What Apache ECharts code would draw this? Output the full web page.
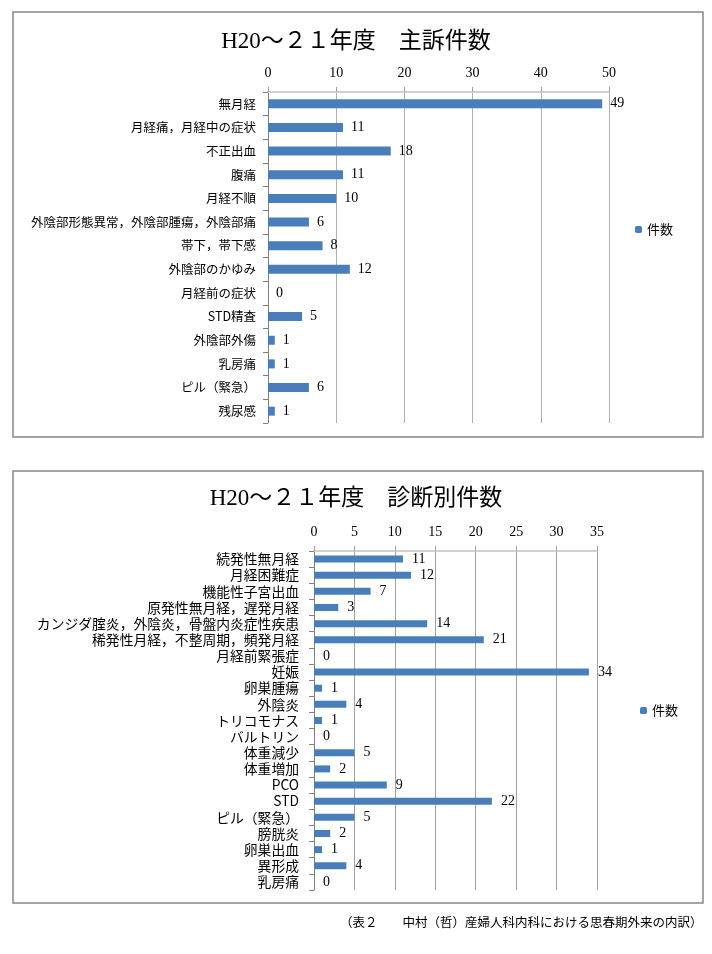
<!DOCTYPE html>
<html><head><meta charset="utf-8">
<script src="https://cdn.jsdelivr.net/npm/echarts@6/dist/echarts.min.js"></script>
<style>html,body{margin:0;padding:0;background:#fff;}#c{width:712px;height:954px;}</style>
</head><body><div id="c"></div>
<script>
var title1 = 'H20～２１年度　主訴件数';
var title2 = 'H20～２１年度　診断別件数';
var seriesName = '件数';
var caption = '（表２　　中村（哲）産婦人科内科における思春期外来の内訳）';

var cats1 = ['無月経','月経痛，月経中の症状','不正出血','腹痛','月経不順','外陰部形態異常，外陰部腫瘍，外陰部痛','帯下，帯下感','外陰部のかゆみ','月経前の症状','STD精査','外陰部外傷','乳房痛','ピル（緊急）','残尿感'];
var vals1 = [49,11,18,11,10,6,8,12,0,5,1,1,6,1];
var ticks1 = {min:0, max:50, interval:10};

var cats2 = ['続発性無月経','月経困難症','機能性子宮出血','原発性無月経，遅発月経','カンジダ腟炎，外陰炎，骨盤内炎症性疾患','稀発性月経，不整周期，頻発月経','月経前緊張症','妊娠','卵巣腫瘍','外陰炎','トリコモナス','バルトリン','体重減少','体重増加','PCO','STD','ピル（緊急）','膀胱炎','卵巣出血','異形成','乳房痛'];
var vals2 = [11,12,7,3,14,21,0,34,1,4,1,0,5,2,9,22,5,2,1,4,0];
var ticks2 = {min:0, max:35, interval:5};

var serif = "'Liberation Serif','DejaVu Serif','Noto Sans CJK JP',serif";
var sans = "'Noto Sans CJK JP','Noto Sans',sans-serif";
var barColor = '#4a7ebb';

function xAxis(idx, t, gridColor){
  return {
    gridIndex: idx, type:'value', position:'top', min:t.min, max:t.max, interval:t.interval,
    axisLine:{show:true, lineStyle:{color:'#d0d0d0', width:2}},
    axisTick:{show:true, inside:false, length:5, lineStyle:{color:'#a0a0a0'}},
    splitLine:{show:true, lineStyle:{color:gridColor, width:1}},
    axisLabel:{fontFamily:serif, fontSize:14, color:'#000', margin:12}
  };
}
function yAxis(idx, cats, fs, margin){
  return {
    gridIndex: idx, type:'category', data:cats, inverse:true,
    axisLine:{show:true, lineStyle:{color:'#808080'}},
    axisTick:{show:true, length:5, lineStyle:{color:'#808080'}},
    axisLabel:{fontFamily:sans, fontSize:fs, color:'#000', margin:margin, interval:0}
  };
}
function bar(idx, vals, bw, dist){
  return {
    name: seriesName, type:'bar', xAxisIndex:idx, yAxisIndex:idx, data:vals, barWidth:bw,
    itemStyle:{color:barColor},
    label:{show:true, position:'right', distance:dist, fontFamily:serif, fontSize:14, color:'#000'}
  };
}

var chart = echarts.init(document.getElementById('c'), null, {renderer:'canvas'});
chart.setOption({
  animation:false,
  backgroundColor:'#fff',
  title:[
    {text:title1, left:'center', top:25, textStyle:{fontFamily:serif, fontSize:23, fontWeight:'normal', color:'#000'}},
    {text:title2, left:'center', top:482, textStyle:{fontFamily:serif, fontSize:23, fontWeight:'normal', color:'#000'}}
  ],
  legend:[
    {data:[seriesName], left:630, top:218, itemWidth:7, itemHeight:7, itemGap:4, textStyle:{fontFamily:sans, fontSize:13, color:'#000'}, selectedMode:false},
    {data:[seriesName], left:635, top:699, itemWidth:7, itemHeight:7, itemGap:4, textStyle:{fontFamily:sans, fontSize:13, color:'#000'}, selectedMode:false}
  ],
  grid:[
    {left:268, right:103, top:92, height:331},
    {left:314, right:115, top:551, height:339}
  ],
  xAxis:[xAxis(0, ticks1, '#b0b0b0'), xAxis(1, ticks2, '#a0a0a0')],
  yAxis:[yAxis(0, cats1, 12.5, 12), yAxis(1, cats2, 13.8, 15)],
  series:[bar(0, vals1, 9, 8), bar(1, vals2, 7, 9)],
  graphic:[
    {type:'rect', shape:{x:13, y:12, width:690, height:425}, style:{fill:'none', stroke:'#888', lineWidth:1.5}, silent:true},
    {type:'rect', shape:{x:13, y:471, width:690, height:432}, style:{fill:'none', stroke:'#888', lineWidth:1.5}, silent:true},
    {type:'text', left:340, top:917, style:{text:caption, fontFamily:serif, fontSize:12.5, fill:'#000'}}
  ]
});
</script></body></html>
